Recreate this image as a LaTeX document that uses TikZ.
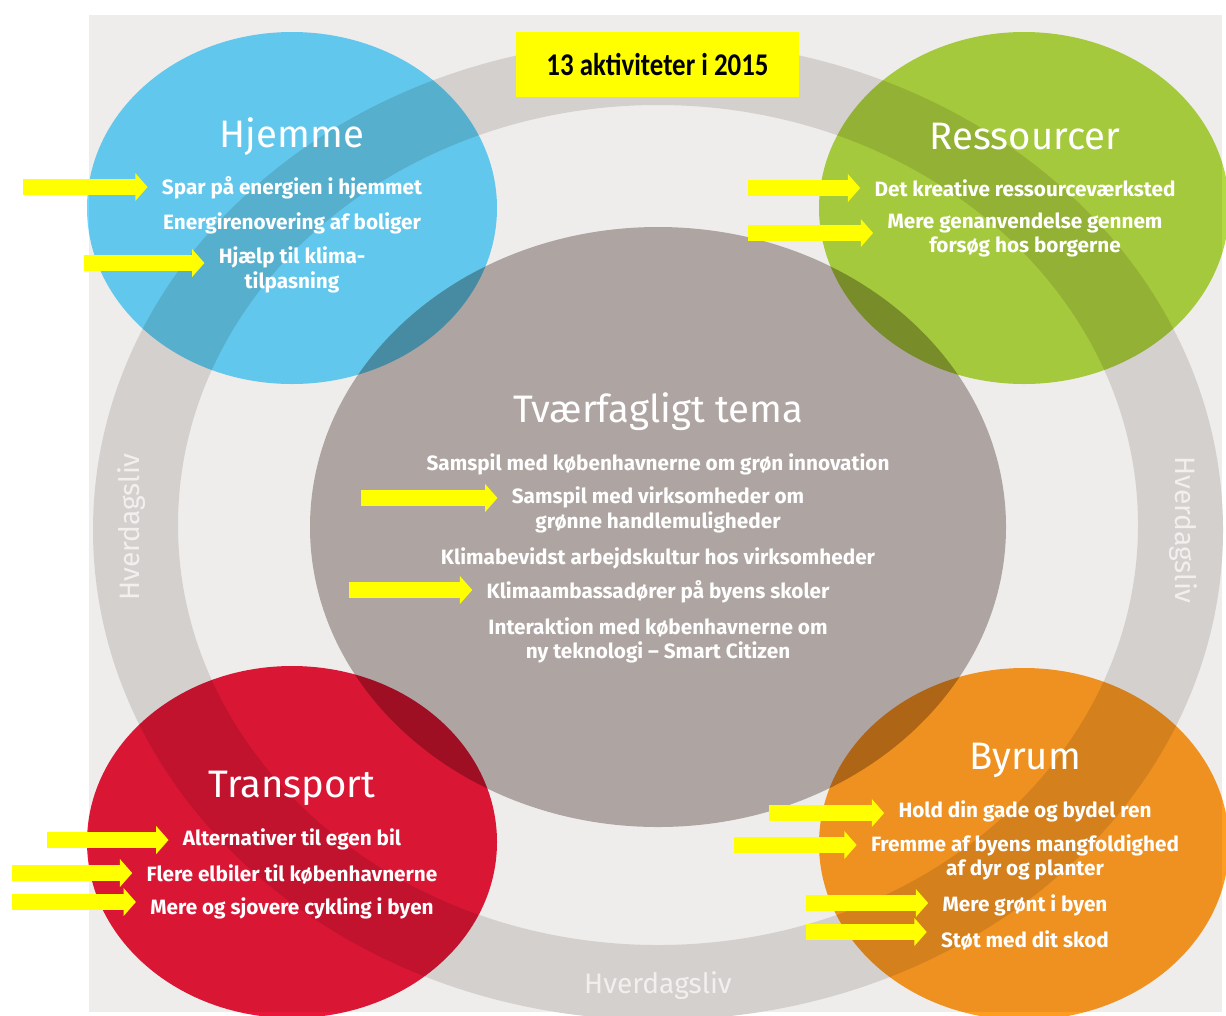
\documentclass[tikz,border=0pt]{standalone}
\usepackage{fontspec}
\setmainfont{Fira Sans}
\newfontfamily\titlefont{Carlito}
\usetikzlibrary{arrows.meta, positioning}
\definecolor{panel}{HTML}{EFEDEC}
\definecolor{ringgray}{HTML}{D4D0CE}
\definecolor{temagray}{HTML}{AEA5A2}
\definecolor{hjemblue}{RGB}{105,215,255}
\definecolor{resgreen}{RGB}{177,217,65}
\definecolor{transred}{RGB}{233,24,58}
\definecolor{byorange}{RGB}{255,157,35}
\definecolor{markyellow}{HTML}{FFFF00}
\definecolor{ringtext}{HTML}{F2F0EF}

\begin{document}
\begin{tikzpicture}[x=0.02cm, y=-0.02cm,
  heading/.style={text=white, font=\fontsize{21.8}{24}\selectfont},
  item/.style={text=white, font=\bfseries\fontsize{11.8}{13.8}\selectfont, align=center, inner sep=0pt},
  ringlabel/.style={text=ringtext, font=\fontsize{16}{18}\selectfont},
  titlebox/.style={fill=markyellow, minimum width=161.6pt, minimum height=36.8pt, font=\titlefont\bfseries\fontsize{18}{20}\selectfont},
  yarrow/.style={draw=markyellow, line width=9.6pt, -{Triangle[length=7pt, width=15.5pt]}, shorten >=8pt}]
\useasboundingbox (0,0) rectangle (1226,1015);
\clip (0,0) rectangle (1226,1015);
\fill [white] (0,0) rectangle (1226,1015);
\fill [panel] (89,15) rectangle (1222,1012);
\fill [ringgray, even odd rule] (658,530) ellipse [x radius=565, y radius=490] (658,525) ellipse [x radius=480, y radius=420];
\fill [temagray] (658,527) ellipse [x radius=348, y radius=300];
\begin{scope}[blend mode=multiply]
\fill [hjemblue] (292,208) ellipse [x radius=205, y radius=176];
\fill [resgreen] (1024,208) ellipse [x radius=205, y radius=176];
\fill [transred] (292,842) ellipse [x radius=205, y radius=176];
\fill [byorange] (1024,844) ellipse [x radius=205, y radius=176];
\end{scope}

\node [ringlabel, rotate=90] (hvleft) at (132,527) {Hverdagsliv};
\node [ringlabel, rotate=-90] (hvright) at (1183,530) {Hverdagsliv};
\node [ringlabel] (hvbottom) at (658,986) {Hverdagsliv};
\node [titlebox] (aktiv) at (657.5,64.5) {\scalebox{0.85}[1]{13 aktiviteter i 2015}\hspace{16pt}};

\node [heading] (hjemme) at (292,137) {Hjemme};
\node [item] (spar) at (292,188) {Spar på energien i hjemmet};
\node [item] (renov) at (292,223) {Energirenovering af boliger};
\node [item] (klima) at (292,270) {Hjælp til klima-\\tilpasning};

\node [heading] (ressourcer) at (1025,137) {Ressourcer};
\node [item] (kreativ) at (1025,188) {Det kreative ressourceværksted};
\node [item] (genanv) at (1025,235) {Mere genanvendelse gennem\\forsøg hos borgerne};

\node [heading] (tema) at (658,412) {Tværfagligt tema};
\node [item] (innov) at (658,464) {Samspil med københavnerne om grøn innovation};
\node [item] (virks) at (658,510) {Samspil med virksomheder om\\grønne handlemuligheder};
\node [item] (kultur) at (658,558) {Klimabevidst arbejdskultur hos virksomheder};
\node [item] (skoler) at (658,592) {Klimaambassadører på byens skoler};
\node [item] (smart) at (658,640) {Interaktion med københavnerne om\\ny teknologi – Smart Citizen};

\node [heading] (transport) at (292,788) {Transport};
\node [item] (egenbil) at (292,839) {Alternativer til egen bil};
\node [item] (elbil) at (292,874) {Flere elbiler til københavnerne};
\node [item] (cykel) at (292,908) {Mere og sjovere cykling i byen};

\node [heading] (byrum) at (1025,760) {Byrum};
\node [item] (gade) at (1025,811) {Hold din gade og bydel ren};
\node [item] (mangfold) at (1025,857) {Fremme af byens mangfoldighed\\af dyr og planter};
\node [item] (groent) at (1025,905) {Mere grønt i byen};
\node [item] (skod) at (1025,940) {Støt med dit skod};

\coordinate (a1) at (23,187);
\coordinate (a2) at (84,263);
\coordinate (a3) at (748,188);
\coordinate (a4) at (748,233);
\coordinate (a5) at (361,498);
\coordinate (a6) at (349,590);
\coordinate (a7) at (47,840);
\coordinate (a8) at (12,873);
\coordinate (a9) at (12,902);
\coordinate (a10) at (769,813);
\coordinate (a11) at (734,845);
\coordinate (a12) at (806,903);
\coordinate (a13) at (806,932);
\draw [yarrow] (a1) -- (a1 -| spar.west);
\draw [yarrow] (a2) -- (a2 -| klima.west);
\draw [yarrow] (a3) -- (a3 -| kreativ.west);
\draw [yarrow] (a4) -- (a4 -| genanv.west);
\draw [yarrow] (a5) -- (a5 -| virks.west);
\draw [yarrow] (a6) -- (a6 -| skoler.west);
\draw [yarrow] (a7) -- (a7 -| egenbil.west);
\draw [yarrow] (a8) -- (a8 -| elbil.west);
\draw [yarrow] (a9) -- (a9 -| cykel.west);
\draw [yarrow] (a10) -- (a10 -| gade.west);
\draw [yarrow] (a11) -- (a11 -| mangfold.west);
\draw [yarrow] (a12) -- (a12 -| groent.west);
\draw [yarrow] (a13) -- (a13 -| skod.west);
\end{tikzpicture}
\end{document}
